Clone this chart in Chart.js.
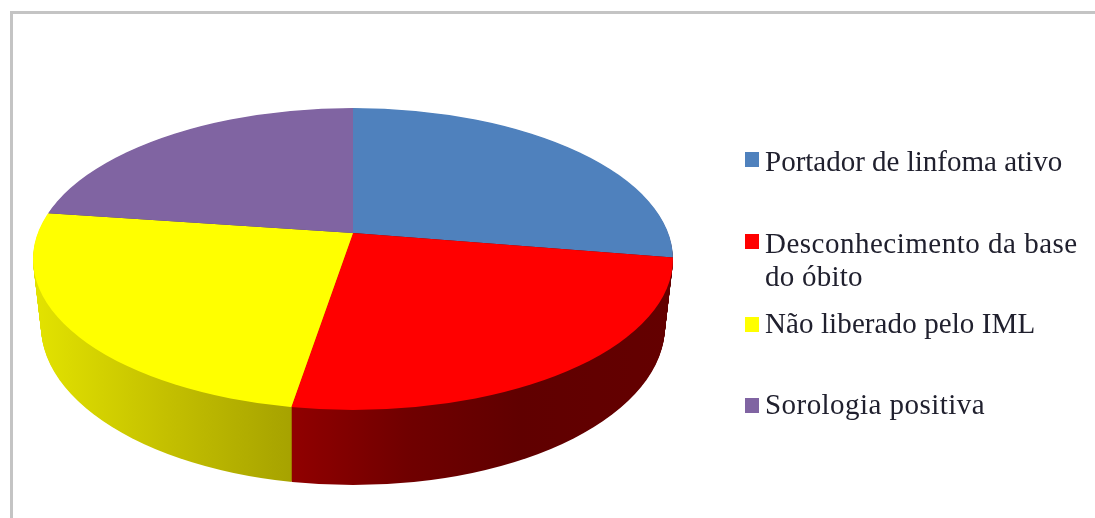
<!DOCTYPE html>
<html><head><meta charset="utf-8">
<style>
html,body{margin:0;padding:0;background:#fff;width:1095px;height:518px;overflow:hidden}
#frame{position:absolute;left:10px;top:11px;right:0;bottom:-5px;border-left:3px solid #c4c4c4;border-top:3px solid #c4c4c4}
canvas{position:absolute;left:0;top:0;filter:blur(0.7px)}
</style>
<script src="https://cdn.jsdelivr.net/npm/chart.js@4"></script>
</head><body>
<div id="frame"></div>
<canvas id="c" width="1095" height="518"></canvas>
<script>
const categories = ["Portador de linfoma ativo", "Desconhecimento da base do óbito", "Não liberado pelo IML", "Sorologia positiva"];
const legendLines = [["Portador de linfoma ativo"], ["Desconhecimento da base", "do óbito"], ["Não liberado pelo IML"], ["Sorologia positiva"]];
const values = [27.6, 25.0, 24.6, 22.8];
const topColors = ["#4f81bd", "#ff0000", "#ffff00", "#8064a2"];
const wallStops = [
  [[0, "#640000"], [1, "#640000"]],
  [[0, "#900000"], [0.3, "#700000"], [0.6, "#600000"], [1, "#640000"]],
  [[0, "#e2e200"], [0.5, "#c4c000"], [1, "#a6a200"]],
  [[0, "#4a3a60"], [1, "#4a3a60"]]
];
const wallRange = [[293, 673], [293, 673], [38, 293], [38, 293]];

const legendPos = [
  {box: 152, base: [171], track: [0]},
  {box: 234, base: [253, 286], track: [0.5, 0.25]},
  {box: 317, base: [333], track: [0.1]},
  {box: 398, base: [414], track: [0.45]}
];

// Projection of the flat pie onto the tilted disc
const apexX = 353, apexY = 233, reachX = 430, squash = 0.465;
const disc = {cx: 353, cy: 259, rx: 320, ry: 151};
const floorDisc = {cy: 326, rx: 312, ry: 159};
const depth = 75;

function project(ctx, el, dy) {
  const sx = reachX / el.outerRadius, sy = reachX * squash / el.outerRadius;
  ctx.translate(apexX, apexY + dy);
  ctx.scale(sx, sy);
  ctx.translate(-el.x, -el.y);
}
function clipDisc(ctx, t) {
  ctx.beginPath();
  ctx.ellipse(disc.cx,
    disc.cy + (floorDisc.cy - disc.cy) * t,
    disc.rx + (floorDisc.rx - disc.rx) * t,
    disc.ry + (floorDisc.ry - disc.ry) * t,
    0, 0, Math.PI * 2);
  ctx.clip();
}
const pie3d = {
  id: "pie3d",
  beforeDatasetsDraw(chart) {
    const ctx = chart.ctx, arcs = chart.getDatasetMeta(0).data;
    for (let d = depth; d >= 1; d--) {
      const t = d / depth;
      arcs.forEach((el, i) => {
        ctx.save();
        clipDisc(ctx, t);
        const [x0, x1] = wallRange[i];
        const g = ctx.createLinearGradient(x0, 0, x1, 0);
        wallStops[i].forEach(s => g.addColorStop(s[0], s[1]));
        ctx.fillStyle = g;
        // path in pie space, fill in page space
        const m = ctx.getTransform();
        project(ctx, el, d);
        ctx.beginPath();
        ctx.moveTo(el.x, el.y);
        ctx.arc(el.x, el.y, el.outerRadius, el.startAngle, el.endAngle);
        ctx.closePath();
        ctx.setTransform(m);
        ctx.fill();
        ctx.restore();
      });
    }
  },
  beforeDatasetDraw(chart) {
    const ctx = chart.ctx, el = chart.getDatasetMeta(0).data[0];
    ctx.save();
    clipDisc(ctx, 0);
    project(ctx, el, 0);
  },
  afterDatasetDraw(chart) { chart.ctx.restore(); },
  afterDraw(chart) {
    const ctx = chart.ctx;
    ctx.save();
    ctx.font = "29px 'Liberation Serif'";
    ctx.textBaseline = "alphabetic";
    legendPos.forEach((p, i) => {
      ctx.fillStyle = chart.data.datasets[0].backgroundColor[i];
      ctx.fillRect(745, p.box, 14, 15);
      ctx.fillStyle = "#20202e";
      legendLines[i].forEach((t, j) => {
        ctx.letterSpacing = p.track[j] + "px";
        ctx.fillText(t, 765, p.base[j]);
      });
    });
    ctx.restore();
  }
};
new Chart(document.getElementById("c"), {
  type: "pie",
  data: {labels: categories, datasets: [{data: values, backgroundColor: topColors, borderWidth: 0}]},
  options: {
    responsive: false, animation: false, devicePixelRatio: 1,
    layout: {padding: {right: 389}},
    plugins: {legend: {display: false}, tooltip: {enabled: false}, title: {display: false}}
  },
  plugins: [pie3d]
});
</script>
</body></html>
